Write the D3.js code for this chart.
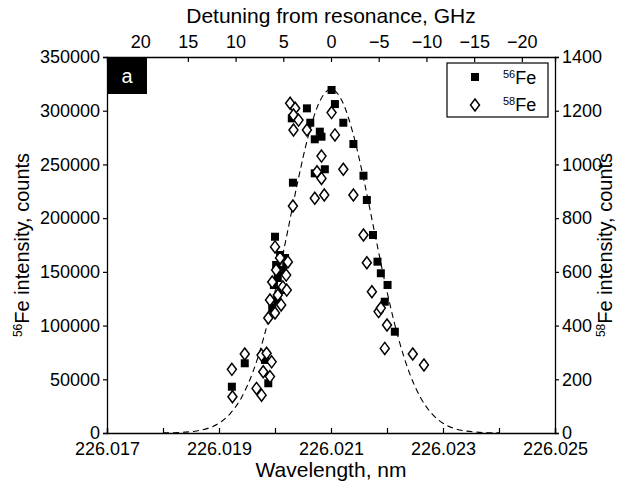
<!DOCTYPE html>
<html>
<head>
<meta charset="utf-8">
<script src="https://cdn.jsdelivr.net/npm/d3@7"></script>
<style>
  body { margin: 0; background: #fff; }
  text { font-family: "Liberation Sans", Arial, sans-serif; fill: #000; }
</style>
</head>
<body>
<div id="viz"></div>
<script>
// 56Fe data (left axis), wavelength in nm
var fe56Wl = [226.01923, 226.01946, 226.01982, 226.01988, 226.02000, 226.02009, 226.02018, 226.02002,
  226.02014, 226.02005, 226.01998, 226.02011, 226.02004, 226.01995, 226.02020, 226.02032,
  226.02030, 226.02057, 226.02063, 226.02080, 226.02083, 226.02071, 226.02101, 226.02107,
  226.02122, 226.02140, 226.02089, 226.02071, 226.02158, 226.02164, 226.02175, 226.02183,
  226.02189, 226.02201, 226.02196, 226.02214];
var fe56Val = [43100, 64900, 68000, 46300, 182700, 165700, 162900, 156400,
  151700, 144300, 137800, 133100, 123800, 116400, 159200, 233000,
  292900, 302200, 288800, 280500, 275800, 273400, 319300, 306200,
  288800, 269000, 245500, 241700, 239500, 216900, 184300, 159500,
  148700, 137800, 122200, 94300];

// 58Fe data (right axis)
var fe58Wl = [226.01924, 226.01923, 226.01946, 226.01976, 226.01985, 226.01994, 226.01979, 226.01991,
  226.01967, 226.01976, 226.02000, 226.02009, 226.02023, 226.02002, 226.02020, 226.01995,
  226.02014, 226.02005, 226.02021, 226.01991, 226.02011, 226.02000, 226.01988, 226.02027,
  226.02036, 226.02033, 226.02042, 226.02033, 226.02057, 226.02032, 226.02101, 226.02107,
  226.02083, 226.02122, 226.02075, 226.02083, 226.02071, 226.02088, 226.02140, 226.02158,
  226.02164, 226.02173, 226.02185, 226.02189, 226.02200, 226.02196, 226.02246, 226.02266];
var fe58Val = [135, 237, 294, 290, 297, 265, 228, 210,
  166, 141, 693, 652, 637, 607, 588, 562,
  544, 514, 532, 495, 477, 447, 428, 1228,
  1209, 1184, 1165, 1128, 1128, 845, 1193, 1110,
  1031, 982, 973, 948, 874, 886, 886, 737,
  634, 526, 452, 465, 402, 315, 294, 253];

// gaussian fit curve
var fitWl = [226.0180, 226.0182, 226.0184, 226.0186, 226.0188, 226.0190, 226.0192, 226.0194,
  226.0196, 226.0198, 226.0200, 226.0202, 226.0204, 226.0206, 226.0208, 226.0210,
  226.0212, 226.0214, 226.0216, 226.0218, 226.0220, 226.0222, 226.0224, 226.0226,
  226.0228, 226.0230, 226.0232, 226.0234, 226.0236, 226.0238, 226.0240];
var fitVal = [110, 300, 790, 1900, 4300, 9100, 18000, 32900,
  56000, 89000, 131600, 181200, 232400, 277600, 308800, 320000,
  308800, 277600, 232400, 181200, 131600, 89000, 56000, 32900,
  18000, 9100, 4300, 1900, 790, 300, 110];

var xTicks = [226.017, 226.018, 226.019, 226.020, 226.021, 226.022, 226.023, 226.024, 226.025];
var xLabels = ['226.017', '', '226.019', '', '226.021', '', '226.023', '', '226.025'];
var topTicks = [20, 15, 10, 5, 0, -5, -10, -15, -20];
var leftTicks = [0, 50000, 100000, 150000, 200000, 250000, 300000, 350000];
var rightTicks = [0, 200, 400, 600, 800, 1000, 1200, 1400];
var centerWl = 226.021;

var W = 623, H = 481;
var margin = { top: 57, right: 68, bottom: 48, left: 107 };
var width = W - margin.left - margin.right,
    height = H - margin.top - margin.bottom;

// detuning in GHz relative to resonance
function detune(wl) {
  return 2.99792458e8 * (1 / wl - 1 / centerWl);
}

var svg = d3.select('#viz').append('svg')
    .attr('width', W)
    .attr('height', H);

var g = svg.append('g')
    .attr('transform', 'translate(' + margin.left + ',' + margin.top + ')');

var xScale = d3.scaleLinear()
    .domain([226.017, 226.025])
    .range([0, width]);

var topScale = d3.scaleLinear()
    .domain([detune(226.017), detune(226.025)])
    .range([0, width]);

var yLeft = d3.scaleLinear()
    .domain([0, 350000])
    .range([height, 0]);

var yRight = d3.scaleLinear()
    .domain([0, 1400])
    .range([height, 0]);

// axes
var xAxis = d3.axisBottom(xScale)
    .tickValues(xTicks)
    .tickSize(-5)
    .tickPadding(9)
    .tickFormat(function (d, i) { return xLabels[i]; });

var topAxis = d3.axisTop(topScale)
    .tickValues(topTicks)
    .tickSize(-5)
    .tickPadding(9)
    .tickFormat(d3.format('d'));

var leftAxis = d3.axisLeft(yLeft)
    .tickValues(leftTicks)
    .tickSize(4)
    .tickPadding(3)
    .tickFormat(d3.format('d'));

var rightAxis = d3.axisRight(yRight)
    .tickValues(rightTicks)
    .tickSize(4)
    .tickPadding(3)
    .tickFormat(d3.format('d'));

function styleAxis(sel) {
  sel.select('.domain').attr('stroke', '#000').attr('stroke-width', 1.3);
  sel.selectAll('.tick line').attr('stroke', '#000').attr('stroke-width', 1.2);
  sel.selectAll('.tick text').attr('font-size', 18).attr('font-family', '"Liberation Sans", Arial, sans-serif');
}

g.append('g')
    .attr('transform', 'translate(0,' + height + ')')
    .call(xAxis)
    .call(styleAxis);

g.append('g')
    .call(topAxis)
    .call(styleAxis);

g.append('g')
    .call(leftAxis)
    .call(styleAxis);

g.append('g')
    .attr('transform', 'translate(' + width + ',0)')
    .call(rightAxis)
    .call(styleAxis);

// fit curve
var fitData = fitWl.map(function (d, i) { return [d, fitVal[i]]; });
var line = d3.line()
    .x(function (d) { return xScale(d[0]); })
    .y(function (d) { return yLeft(d[1]); })
    .curve(d3.curveMonotoneX);

g.append('path')
    .datum(fitData)
    .attr('d', line)
    .attr('fill', 'none')
    .attr('stroke', '#000')
    .attr('stroke-width', 1.1)
    .attr('stroke-dasharray', '6,4');

// 56Fe squares
var sq = 8;
g.selectAll('rect.fe56')
    .data(fe56Wl)
    .enter().append('rect')
    .attr('class', 'fe56')
    .attr('x', function (d) { return xScale(d) - sq / 2; })
    .attr('y', function (d, i) { return yLeft(fe56Val[i]) - sq / 2; })
    .attr('width', sq)
    .attr('height', sq)
    .attr('fill', '#000');

// 58Fe diamonds
var diamond = 'M0,-6L4.5,0L0,6L-4.5,0Z';
g.selectAll('path.fe58')
    .data(fe58Wl)
    .enter().append('path')
    .attr('class', 'fe58')
    .attr('d', diamond)
    .attr('transform', function (d, i) {
      return 'translate(' + xScale(d) + ',' + yRight(fe58Val[i]) + ')';
    })
    .attr('fill', '#fff')
    .attr('stroke', '#000')
    .attr('stroke-width', 1.5);

// panel label
g.append('rect')
    .attr('x', 0).attr('y', 0)
    .attr('width', 40).attr('height', 37)
    .attr('fill', '#000');
g.append('text')
    .attr('x', 20).attr('y', 26)
    .attr('text-anchor', 'middle')
    .attr('font-size', 20)
    .style('fill', '#fff')
    .text('a');

// legend
var legend = g.append('g')
    .attr('transform', 'translate(' + (width - 108) + ',6)');
legend.append('rect')
    .attr('width', 101).attr('height', 54)
    .attr('fill', '#fff')
    .attr('stroke', '#000')
    .attr('stroke-width', 1.2);
legend.append('rect')
    .attr('x', 24).attr('y', 10)
    .attr('width', sq).attr('height', sq)
    .attr('fill', '#000');
legend.append('path')
    .attr('d', diamond)
    .attr('transform', 'translate(28,42)')
    .attr('fill', '#fff')
    .attr('stroke', '#000')
    .attr('stroke-width', 1.5);
var legNames = [['56', 'Fe'], ['58', 'Fe']];
legNames.forEach(function (n, i) {
  var t = legend.append('text')
      .attr('x', 56).attr('y', 21 + i * 27)
      .attr('font-size', 18);
  t.append('tspan').attr('font-size', 11).attr('dy', -6).text(n[0]);
  t.append('tspan').attr('dy', 6).text(n[1]);
});

// axis titles
svg.append('text')
    .attr('x', margin.left + width / 2)
    .attr('y', 23)
    .attr('text-anchor', 'middle')
    .attr('font-size', 21)
    .text('Detuning from resonance, GHz');

svg.append('text')
    .attr('x', margin.left + width / 2)
    .attr('y', 477)
    .attr('text-anchor', 'middle')
    .attr('font-size', 21)
    .text('Wavelength, nm');

var yl = svg.append('text')
    .attr('transform', 'translate(29,' + (margin.top + height / 2) + ') rotate(-90)')
    .attr('text-anchor', 'middle')
    .attr('font-size', 20);
yl.append('tspan').attr('font-size', 12).attr('dy', -7).text('56');
yl.append('tspan').attr('dy', 7).text('Fe intensity, counts');

var yr = svg.append('text')
    .attr('transform', 'translate(612,' + (margin.top + height / 2) + ') rotate(-90)')
    .attr('text-anchor', 'middle')
    .attr('font-size', 20);
yr.append('tspan').attr('font-size', 12).attr('dy', -7).text('58');
yr.append('tspan').attr('dy', 7).text('Fe intensity, counts');
</script>
</body>
</html>
